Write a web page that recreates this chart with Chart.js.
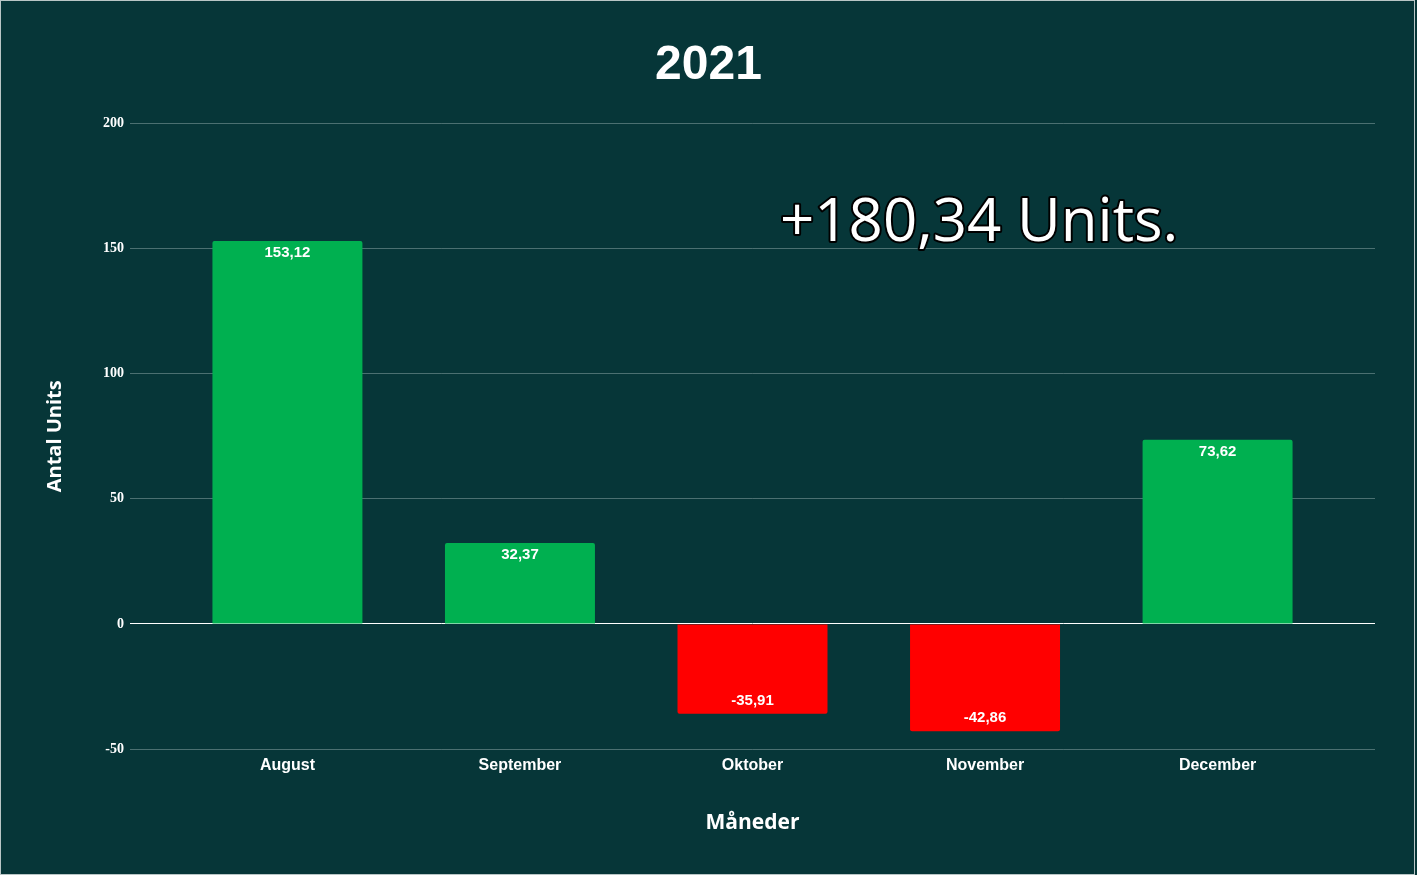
<!DOCTYPE html>
<html>
<head>
<meta charset="utf-8">
<script src="https://cdn.jsdelivr.net/npm/chart.js@4.4.1/dist/chart.umd.min.js"></script>
<style>
html,body{margin:0;padding:0;background:#063638;overflow:hidden;}
canvas{display:block;}
</style>
</head>
<body>
<canvas id="c" width="1417" height="875"></canvas>
<script>
const categories = ['August', 'September', 'Oktober', 'November', 'December'];
const values = [153.12, 32.37, -35.91, -42.86, 73.62];
const yTicks = [-50, 0, 50, 100, 150, 200];
const titleText = '2021';
const xTitle = 'Måneder';
const yTitle = 'Antal Units';

const BG = '#063638';
const GREEN = '#00B050';
const RED = '#FF0000';

const fmt = v => v.toFixed(2).replace('.', ',');
const total = values.reduce((a, b) => a + b, 0);
const annotationText = (total >= 0 ? '+' : '') + fmt(total) + ' Units.';

const bgPlugin = {
  id: 'bg',
  beforeDraw(chart) {
    const ctx = chart.ctx;
    ctx.save();
    ctx.fillStyle = BG;
    ctx.fillRect(0, 0, chart.width, chart.height);
    ctx.strokeStyle = '#b9c6c6';
    ctx.lineWidth = 1;
    ctx.strokeRect(0.5, 0.5, chart.width - 3, chart.height - 1);
    ctx.restore();
  }
};

const labelPlugin = {
  id: 'barLabels',
  afterDatasetsDraw(chart) {
    const ctx = chart.ctx;
    const meta = chart.getDatasetMeta(0);
    ctx.save();
    ctx.font = 'bold 15px "Liberation Sans", Arial, sans-serif';
    ctx.fillStyle = '#ffffff';
    ctx.textAlign = 'center';
    ctx.textBaseline = 'middle';
    meta.data.forEach((bar, i) => {
      const v = values[i];
      const y = v >= 0 ? bar.y + 12 : bar.y - 13;
      ctx.fillText(fmt(v), bar.x, y);
    });
    ctx.restore();
  }
};

const annotationPlugin = {
  id: 'annotation',
  afterDraw(chart) {
    const ctx = chart.ctx;
    const area = chart.chartArea;
    ctx.save();
    ctx.font = '500 60px "Open Sans", sans-serif';
    ctx.textAlign = 'left';
    ctx.textBaseline = 'alphabetic';
    const x = area.left + 650;
    const y = area.top + 117;
    ctx.lineJoin = 'round';
    ctx.lineWidth = 4;
    ctx.strokeStyle = '#000000';
    ctx.strokeText(annotationText, x, y);
    ctx.fillStyle = '#ffffff';
    ctx.fillText(annotationText, x, y);
    ctx.restore();
  }
};

new Chart(document.getElementById('c'), {
  type: 'bar',
  data: {
    datasets: [{
      data: values.map((v, i) => ({ x: i, y: v })),
      backgroundColor: values.map(v => v >= 0 ? GREEN : RED),
      borderRadius: 2,
      borderSkipped: 'start',
      categoryPercentage: 1,
      barPercentage: 0.645
    }]
  },
  options: {
    responsive: false,
    animation: false,
    devicePixelRatio: 1,
    layout: { padding: { left: 0, right: 0, top: 0, bottom: 0 } },
    plugins: {
      legend: { display: false },
      tooltip: { enabled: false },
      title: {
        display: true,
        text: titleText,
        color: '#ffffff',
        font: { family: '"Liberation Sans", Arial, sans-serif', size: 48, weight: 'bold' },
        padding: { top: 37, bottom: 29 }
      }
    },
    scales: {
      x: {
        type: 'linear',
        offset: false,
        min: -0.677,
        max: categories.length - 1 + 0.677,
        grid: { display: false, drawTicks: false },
        border: { display: false },
        afterBuildTicks: s => { s.ticks = categories.map((c, i) => ({ value: i })); },
        afterFit: s => { s.height = 126; },
        ticks: {
          callback: v => categories[v],
          color: '#ffffff',
          font: { family: '"Liberation Sans", Arial, sans-serif', size: 16, weight: 'bold' },
          padding: 7,
          autoSkip: false,
          maxRotation: 0
        },
        title: {
          display: true,
          text: xTitle,
          color: '#ffffff',
          font: { family: '"Open Sans", sans-serif', size: 21, weight: 'bold' },
          padding: { top: 0, bottom: 39 }
        }
      },
      y: {
        min: yTicks[0],
        max: yTicks[yTicks.length - 1],
        afterBuildTicks: s => { s.ticks = yTicks.map(v => ({ value: v })); },
        afterFit: s => { s.width = 130; },
        border: { display: false },
        grid: {
          drawTicks: false,
          color: c => (c.tick && c.tick.value === 0) ? '#ffffff' : 'rgba(160,185,185,0.45)',
          lineWidth: 1
        },
        ticks: {
          color: '#ffffff',
          font: { family: '"Liberation Serif", "Times New Roman", serif', size: 14, weight: 'bold' },
          padding: 6
        },
        title: {
          display: true,
          text: yTitle,
          color: '#ffffff',
          font: { family: '"Open Sans", sans-serif', size: 20, weight: 'bold' },
          padding: { top: 43, bottom: 0 }
        }
      },
      yRight: {
        position: 'right',
        display: true,
        min: yTicks[0],
        max: yTicks[yTicks.length - 1],
        grid: { display: false, drawTicks: false },
        border: { display: false },
        ticks: { display: false },
        afterFit: s => { s.width = 42; }
      }
    }
  },
  plugins: [bgPlugin, labelPlugin, annotationPlugin]
});
</script>
</body>
</html>
